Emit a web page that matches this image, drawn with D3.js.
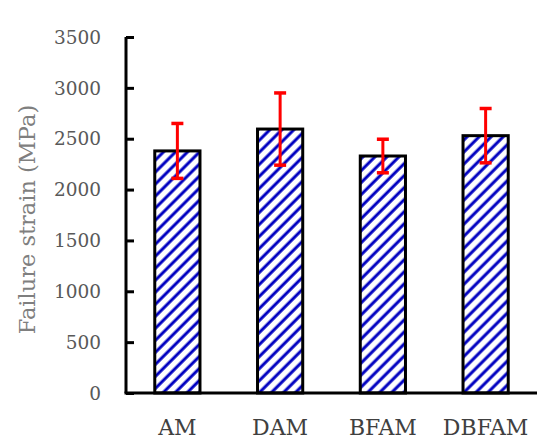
<!DOCTYPE html>
<html>
<head>
<meta charset="utf-8">
<script src="https://cdn.jsdelivr.net/npm/d3@7"></script>
<style>
  html, body { margin: 0; padding: 0; background: #fff; }
  svg { display: block; }
</style>
</head>
<body>
<div id="chart"></div>
<script>
const categories = ["AM", "DAM", "BFAM", "DBFAM"];
const values = [2380, 2595, 2330, 2530];
const errors = [270, 355, 165, 267];
const yTicks = [0, 500, 1000, 1500, 2000, 2500, 3000, 3500];
const yLabel = "Failure strain (MPa)";

const W = 550, H = 447;
const svg = d3.select("#chart").append("svg").attr("width", W).attr("height", H);

const defs = svg.append("defs");
const pat = defs.append("pattern")
  .attr("id", "hatch")
  .attr("patternUnits", "userSpaceOnUse")
  .attr("width", 8.5).attr("height", 8.5)
  .attr("patternTransform", "rotate(45)");
pat.append("rect").attr("width", 8.5).attr("height", 8.5).attr("fill", "#fff");
pat.append("line").attr("x1", 2).attr("y1", 0).attr("x2", 2).attr("y2", 8.5)
  .attr("stroke", "#0000c0").attr("stroke-width", 3);

const x = d3.scaleBand().domain(categories).range([126, 537]).paddingInner(0.56).paddingOuter(0.28);
const y = d3.scaleLinear().domain([0, 3500]).range([393, 37]);

// bars
svg.append("g").selectAll("rect").data(categories).join("rect")
  .attr("x", d => x(d))
  .attr("y", (d, i) => y(values[i]))
  .attr("width", x.bandwidth())
  .attr("height", (d, i) => y(0) - y(values[i]))
  .attr("fill", "url(#hatch)")
  .attr("stroke", "#000")
  .attr("stroke-width", 3);

// error bars
const eg = svg.append("g").attr("stroke", "#ff0000");
categories.forEach((c, i) => {
  const cx = x(c) + x.bandwidth() / 2;
  const top = y(values[i] + errors[i]), bot = y(values[i] - errors[i]);
  eg.append("line").attr("x1", cx).attr("x2", cx).attr("y1", top).attr("y2", bot).attr("stroke-width", 3);
  eg.append("line").attr("x1", cx - 6).attr("x2", cx + 6).attr("y1", top).attr("y2", top).attr("stroke-width", 3.5);
  eg.append("line").attr("x1", cx - 6).attr("x2", cx + 6).attr("y1", bot).attr("y2", bot).attr("stroke-width", 3.5);
});

// y axis
const ya = svg.append("g").attr("transform", "translate(126,0)")
  .call(d3.axisRight(y).tickValues(yTicks).tickSize(8).tickFormat(""));
ya.select(".domain").attr("d", `M0,${y(3500)}V${y(0)}`).attr("stroke", "#000").attr("stroke-width", 3);
ya.selectAll(".tick line").attr("stroke", "#000").attr("stroke-width", 3);

svg.append("g").selectAll("text").data(yTicks).join("text")
  .attr("x", 101).attr("y", d => y(d)).attr("dy", "0.36em")
  .attr("text-anchor", "end")
  .attr("font-family", "DejaVu Serif").attr("font-size", 18.5)
  .attr("fill", "#595959")
  .text(d => d);

// x axis
const xa = svg.append("g").attr("transform", `translate(0,${y(0)})`)
  .call(d3.axisBottom(x).tickSize(0).tickPadding(0));
xa.select(".domain").attr("d", "M124.5,0H537").attr("stroke", "#000").attr("stroke-width", 3);
xa.selectAll(".tick text").remove();
svg.append("g").selectAll("text").data(categories).join("text")
  .attr("x", d => x(d) + x.bandwidth() / 2).attr("y", 435)
  .attr("text-anchor", "middle")
  .attr("font-family", "DejaVu Serif").attr("font-size", 22)
  .attr("fill", "#404040")
  .text(d => d);

// y label
svg.append("text")
  .attr("transform", "translate(35,219.5) rotate(-90)")
  .attr("text-anchor", "middle")
  .attr("font-family", "DejaVu Serif").attr("font-size", 22.5)
  .attr("fill", "#7f7f7f")
  .text(yLabel);
</script>
</body>
</html>
